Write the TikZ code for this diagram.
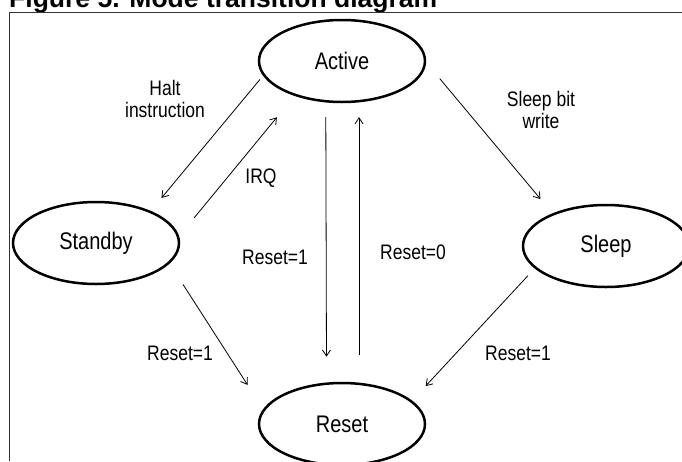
\documentclass[tikz,border=0pt]{standalone}
\usepackage{fontspec}
\setmainfont{Liberation Sans}
\usepackage{graphicx}
\usetikzlibrary{arrows.meta,shapes.geometric}

% text in the figure is a little taller than it is wide
\newcommand{\tall}[1]{\scalebox{1}[1.2]{#1}}

\begin{document}
\begin{tikzpicture}[x=1pt,y=-1pt,>={Straight Barb[length=6pt,width=8pt]},
  mode/.style={ellipse,draw,line width=2.5pt,minimum width=166pt,minimum height=82pt,inner sep=0pt,outer sep=0pt,font=\fontsize{20}{24}\selectfont},
  trans/.style={->,line width=0.8pt},
  lbl/.style={align=center,font=\fontsize{17.5}{22}\selectfont}]

  \useasboundingbox (0,0) rectangle (682,461);

  % title and frame
  \node[anchor=base west,inner sep=0pt,font=\fontsize{26.5}{30}\selectfont\bfseries] (title) at (9,7) {Figure 5. Mode transition diagram};
  \draw[line width=1pt,black!80] (9,461) -- (9,12) -- (682,12);

  % modes
  \node[mode] (act) at (342,61) {\tall{Active}};
  \node[mode] (stb) at (96,243) {\tall{Standby}};
  \node[mode] (slp) at (606,246) {\tall{Sleep}};
  \node[mode] (rst) at (342,424) {\tall{Reset}};

  % transitions
  \path[trans]
    (act.190) edge[shorten <=6pt,shorten >=18pt] (stb.30)
    (stb.4) edge[shorten <=25pt,shorten >=29pt] (act.216)
    (stb.345) edge[shorten <=26pt,shorten >=30pt] (rst.170)
    (act.248.3) edge[shorten <=16pt,shorten >=27pt] (rst.111.7)
    (rst.67) edge[shorten <=29pt,shorten >=16pt] (act.293)
    (act.0) edge[shorten <=23pt,shorten >=20pt] (slp.149)
    (slp.197) edge[shorten <=11pt,shorten >=21pt] (rst.18);

  % labels
  \node[lbl] (halt) at (165,99) {\tall{Halt}\\\tall{instruction}};
  \node[lbl] (irq) at (261,178) {\tall{IRQ}};
  \node[lbl] (rs1) at (275,257) {\tall{Reset=1}};
  \node[lbl] (rs0) at (413,252) {\tall{Reset=0}};
  \node[lbl] (sbw) at (541,110) {\tall{Sleep bit}\\\tall{write}};
  \node[lbl] (stbrs) at (180,353) {\tall{Reset=1}};
  \node[lbl] (slprs) at (518,353) {\tall{Reset=1}};

\end{tikzpicture}
\end{document}
